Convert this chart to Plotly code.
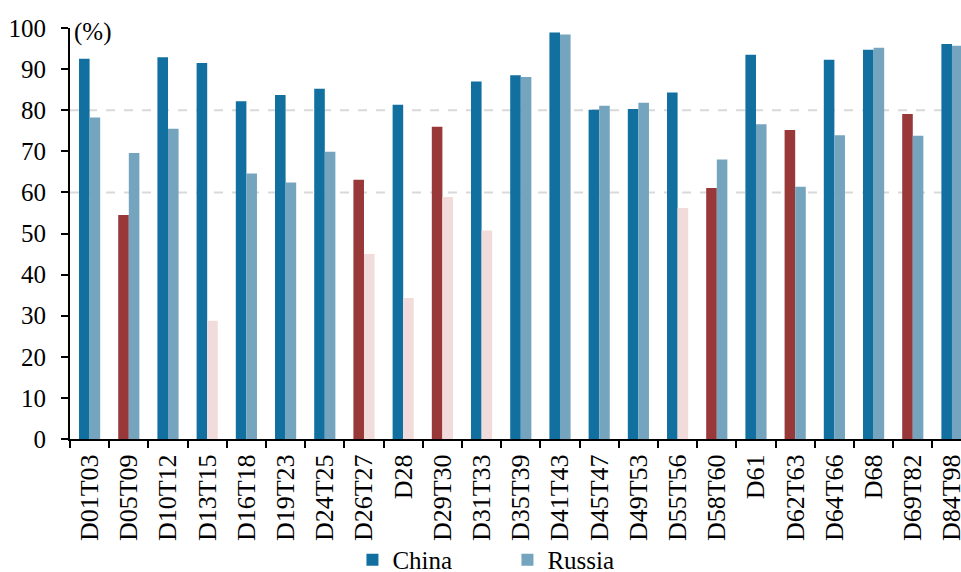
import plotly.graph_objects as go

categories = ["D01T03", "D05T09", "D10T12", "D13T15", "D16T18", "D19T23", "D24T25",
              "D26T27", "D28", "D29T30", "D31T33", "D35T39", "D41T43", "D45T47",
              "D49T53", "D55T56", "D58T60", "D61", "D62T63", "D64T66", "D68",
              "D69T82", "D84T98"]
china = [92.5, 54.5, 92.9, 91.5, 82.2, 83.7, 85.2, 63.1, 81.3, 76.0, 87.0, 88.5,
         98.9, 80.1, 80.3, 84.3, 61.1, 93.5, 75.2, 92.3, 94.7, 79.1, 96.1]
russia = [78.2, 69.6, 75.5, 28.8, 64.6, 62.4, 69.9, 45.0, 34.3, 58.9, 50.7, 88.1,
          98.4, 81.1, 81.8, 56.2, 68.0, 76.6, 61.4, 73.9, 95.2, 73.8, 95.7]
y_ticks = [0, 10, 20, 30, 40, 50, 60, 70, 80, 90, 100]
china_threshold = 80
russia_threshold = 60

BLUE = "#1170A0"
LBLUE = "#75A5BE"
RED = "#983838"
PINK = "#F2DCDB"

china_colors = [BLUE if v >= china_threshold else RED for v in china]
russia_colors = [LBLUE if v >= russia_threshold else PINK for v in russia]

font = "Times New Roman, Liberation Serif, serif"

fig = go.Figure()
fig.add_trace(go.Bar(x=categories, y=china, name="China",
                     marker=dict(color=china_colors, line=dict(width=0))))
fig.add_trace(go.Bar(x=categories, y=russia, name="Russia",
                     marker=dict(color=russia_colors, line=dict(width=0))))

for g in (60, 80):
    fig.add_shape(type="line", xref="paper", yref="y", x0=0, x1=1, y0=g, y1=g,
                  line=dict(color="#D9D9D9", width=2, dash="dash"), layer="below")

fig.add_annotation(text="(%)", xref="paper", yref="paper", x=0.002, y=0.99,
                   xanchor="left", yanchor="middle", showarrow=False,
                   font=dict(family=font, size=25, color="black"))

fig.update_layout(
    width=961, height=572,
    margin=dict(l=70, r=0, t=28, b=133, autoexpand=False),
    paper_bgcolor="white", plot_bgcolor="white",
    barmode="group", bargap=0.46, bargroupgap=0,
    font=dict(family=font, color="black"),
    showlegend=True,
    legend=dict(orientation="h", x=0.317, y=0.021, xref="paper", yref="container",
                xanchor="left", yanchor="middle", bgcolor="rgba(0,0,0,0)",
                font=dict(family=font, size=25, color="black"),
                entrywidth=110, entrywidthmode="pixels",
                itemsizing="constant", traceorder="normal"),
    xaxis=dict(type="category", range=[-0.5, 22.23], showgrid=False, automargin=False,
               showline=True, linecolor="black", linewidth=2,
               ticks="outside", ticklen=7, tickwidth=2, tickcolor="black",
               tickson="boundaries", tickangle=-90, ticklabelstandoff=3,
               tickfont=dict(family=font, size=26, color="black")),
    yaxis=dict(range=[0, 100], tickvals=y_ticks, showgrid=False, automargin=False,
               showline=True, linecolor="black", linewidth=2,
               ticks="outside", ticklen=7, tickwidth=2, tickcolor="black",
               zeroline=False, ticklabelstandoff=10,
               tickfont=dict(family=font, size=25, color="black")),
)

fig.write_html("out.html", config={"displayModeBar": False},
               post_script="document.body.style.margin='0';document.body.style.padding='0';")
